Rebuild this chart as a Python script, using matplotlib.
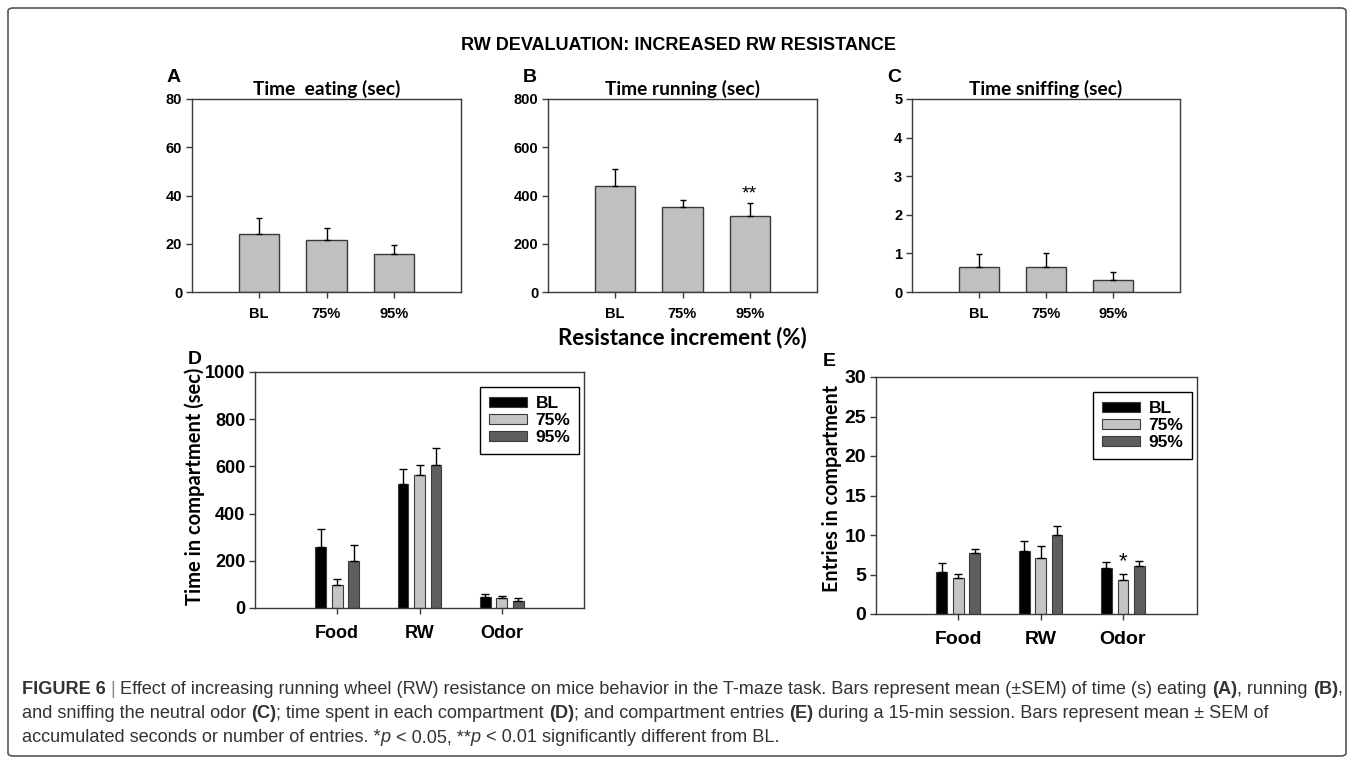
import matplotlib
matplotlib.use("Agg")
import matplotlib.pyplot as plt
import numpy as np
from matplotlib.patches import FancyBboxPatch

W, H = 1354, 760

# panel A-C data
conds = ["BL", "75%", "95%"]
eat_mean = [24, 21.7, 15.9]
eat_sem = [6.8, 5.0, 3.6]
run_mean = [438, 351, 315]
run_sem = [71, 29, 54]
sniff_mean = [0.66, 0.66, 0.32]
sniff_sem = [0.33, 0.34, 0.21]

# panel D-E data
compartments = ["Food", "RW", "Odor"]
time_bl = [257, 525, 46]
time_bl_sem = [78, 62, 13]
time_75 = [96, 565, 42]
time_75_sem = [25, 41, 9]
time_95 = [200, 606, 30]
time_95_sem = [67, 70, 14]
entries_bl = [5.36, 8.02, 5.87]
entries_bl_sem = [1.14, 1.23, 0.76]
entries_75 = [4.6, 7.05, 4.27]
entries_75_sem = [0.43, 1.53, 0.76]
entries_95 = [7.69, 10.0, 6.04]
entries_95_sem = [0.55, 1.15, 0.67]

ARIAL = "Liberation Sans"
CALIBRI = "Lato"
EDGE = "#3a3a3a"

fig = plt.figure(figsize=(W / 100, H / 100), dpi=100)


def ax_px(l, t, r, b):
    return fig.add_axes([l / W, 1 - b / H, (r - l) / W, (b - t) / H])


def style(ax, tick_size):
    for s in ax.spines.values():
        s.set_color(EDGE)
        s.set_linewidth(1.0)
    ax.tick_params(axis="both", direction="out", length=4, width=1, color=EDGE,
                   labelsize=tick_size, pad=3)
    for lab in ax.get_xticklabels() + ax.get_yticklabels():
        lab.set_fontfamily(ARIAL)
        lab.set_fontweight("bold")


# outer frame
frame = FancyBboxPatch((8 / W, 4 / H), (W - 16) / W, (H - 12) / H,
                       boxstyle="round,pad=0,rounding_size=0.004",
                       transform=fig.transFigure, fill=False,
                       edgecolor="#555555", linewidth=1.2)
fig.patches.append(frame)

fig.text(678 / W, 1 - 45 / H, "RW DEVALUATION: INCREASED RW RESISTANCE",
         ha="center", va="center", fontsize=13, fontweight="bold", family=ARIAL)

top_panels = [
    (192, 461, "A", "Time  eating (sec)", eat_mean, eat_sem, 80, 20),
    (548, 817, "B", "Time running (sec)", run_mean, run_sem, 800, 200),
    (912, 1180, "C", "Time sniffing (sec)", sniff_mean, sniff_sem, 5, 1),
]
x3 = np.arange(1, 4)
axes_top = []
for l, r, letter, title, m, e, ymax, step in top_panels:
    ax = ax_px(l, 99, r, 292)
    ax.bar(x3, m, width=0.6, color="#c0c0c0", edgecolor=EDGE, linewidth=1.0, zorder=2)
    ax.errorbar(x3, m, yerr=[np.zeros(3), e], fmt="none", ecolor="black",
                elinewidth=1.0, capsize=2.5, capthick=1.0, zorder=3)
    ax.set_xlim(0, 4)
    ax.set_ylim(0, ymax)
    ax.set_yticks(np.arange(0, ymax + step / 2, step))
    ax.set_xticks(x3)
    ax.set_xticklabels(conds)
    style(ax, 10.5)
    ax.tick_params(axis="x", pad=7)
    ax.set_title(title, family=CALIBRI, fontweight="bold", fontsize=13.8, pad=3)
    fig.text((l - 25) / W, 1 - 78 / H, letter, ha="left", va="center",
             fontsize=14, fontweight="bold", family=ARIAL)
    axes_top.append(ax)

axes_top[1].text(3, run_mean[2] + run_sem[2] + 4, "**", ha="center", va="bottom",
                 fontsize=14, family=ARIAL)
fig.text(682 / W, 1 - 338 / H, "Resistance increment (%)", ha="center", va="center",
         fontsize=16, fontweight="bold", family=CALIBRI)

bottom_panels = [
    (255, 372, 584, 608, 4.0, "D", "Time in compartment (sec)",
     [time_bl, time_75, time_95], [time_bl_sem, time_75_sem, time_95_sem], 1000, 200,
     195, 486, 14.5, 13, (188, 359)),
    (876, 377, 1197, 614, 3.9, "E", "Entries in compartment",
     [entries_bl, entries_75, entries_95], [entries_bl_sem, entries_75_sem, entries_95_sem],
     30, 5, 832, 488, 14.2, 14, (823, 362)),
]
fills = ["black", "#c4c4c4", "#5e5e5e"]
offsets = [-0.2, 0.0, 0.2]
axes_bottom = []
for (l, t, r, b, xmax, letter, ylab, means, sems, ymax, step, ylab_x, ylab_y,
     ylab_size, tick_size, letter_pos) in bottom_panels:
    ax = ax_px(l, t, r, b)
    handles = []
    for m, e, c, off, name in zip(means, sems, fills, offsets, conds):
        h = ax.bar(x3 + off, m, width=0.13, color=c, edgecolor=EDGE, linewidth=0.8,
                   zorder=2, label=name)
        ax.errorbar(x3 + off, m, yerr=[np.zeros(3), e], fmt="none", ecolor="black",
                    elinewidth=1.0, capsize=3, capthick=1.0, zorder=3)
        handles.append(h)
    ax.set_xlim(0, xmax)
    ax.set_ylim(0, ymax)
    ax.set_yticks(np.arange(0, ymax + step / 2, step))
    ax.set_xticks(x3)
    ax.set_xticklabels(compartments)
    style(ax, tick_size)
    ax.tick_params(axis="x", pad=8)
    fig.text(ylab_x / W, 1 - ylab_y / H, ylab, rotation=90, ha="center",
             va="center", fontsize=ylab_size, fontweight="bold", family=CALIBRI)
    fig.text(letter_pos[0] / W, 1 - letter_pos[1] / H, letter, ha="left", va="center",
             fontsize=14, fontweight="bold", family=ARIAL)
    leg = ax.legend(handles=handles, loc="upper right", bbox_to_anchor=(0.985, 0.935),
                    fancybox=False, edgecolor="black", framealpha=1,
                    handlelength=2.2, handleheight=0.45, handletextpad=0.5,
                    labelspacing=0.12, borderpad=0.5, borderaxespad=0,
                    prop={"family": ARIAL, "weight": "bold", "size": 12.5})
    leg.get_frame().set_linewidth(1.0)
    axes_bottom.append(ax)

axes_bottom[1].text(3, entries_75[2] + entries_75_sem[2] + 0.3, "*", ha="center",
                    va="bottom", fontsize=16, family=ARIAL)

# caption
lines = [
    [("FIGURE 6", "bold", "normal", "#333333"), (" | ", "normal", "normal", "#888888"),
     ("Effect of increasing running wheel (RW) resistance on mice behavior in the T-maze task. "
      "Bars represent mean (\u00b1SEM) of time (s) eating ", "normal", "normal", "#333333"),
     ("(A)", "bold", "normal", "#333333"), (", running ", "normal", "normal", "#333333"),
     ("(B)", "bold", "normal", "#333333"), (",", "normal", "normal", "#333333")],
    [("and sniffing the neutral odor ", "normal", "normal", "#333333"),
     ("(C)", "bold", "normal", "#333333"),
     ("; time spent in each compartment ", "normal", "normal", "#333333"),
     ("(D)", "bold", "normal", "#333333"),
     ("; and compartment entries ", "normal", "normal", "#333333"),
     ("(E)", "bold", "normal", "#333333"),
     (" during a 15-min session. Bars represent mean \u00b1 SEM of", "normal", "normal", "#333333")],
    [("accumulated seconds or number of entries. *", "normal", "normal", "#333333"),
     ("p", "normal", "italic", "#333333"), (" < 0.05, **", "normal", "normal", "#333333"),
     ("p", "normal", "italic", "#333333"),
     (" < 0.01 significantly different from BL.", "normal", "normal", "#333333")],
]
renderer = fig.canvas.get_renderer()
for y, parts in zip([689, 714, 738], lines):
    x = 22
    for s, wt, st, col in parts:
        txt = fig.text(x / W, 1 - y / H, s, ha="left", va="center", fontsize=13.1,
                       fontweight=wt, fontstyle=st, family=ARIAL, color=col)
        bb = txt.get_window_extent(renderer)
        x = bb.x1

fig.savefig("out.png", dpi=100)
